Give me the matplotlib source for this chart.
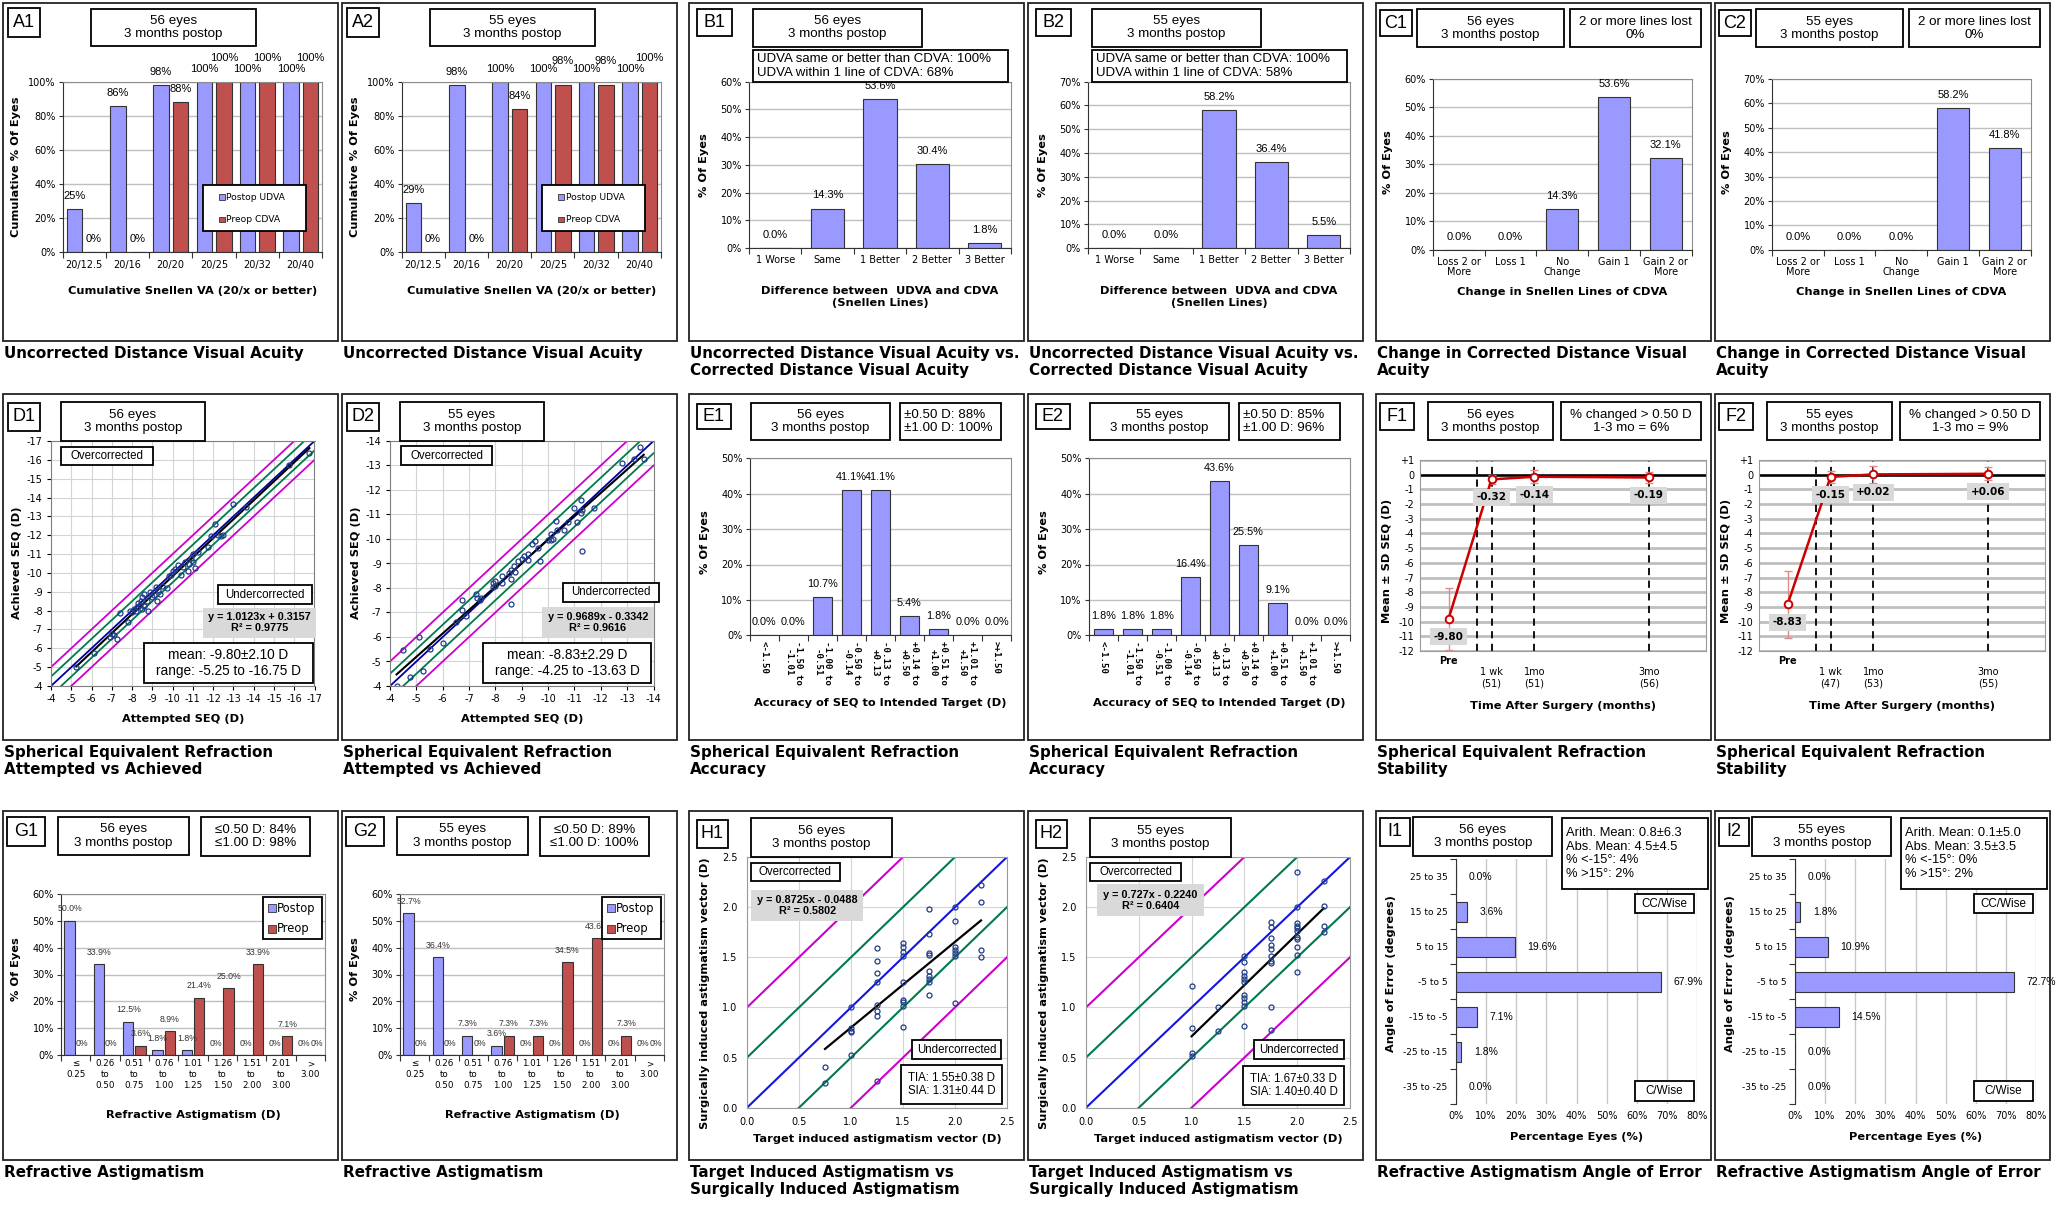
import numpy as np
import matplotlib
matplotlib.use("Agg")
import matplotlib.pyplot as plt
from matplotlib.patches import Rectangle

plt.rcParams["font.family"] = "DejaVu Sans"
plt.rcParams["axes.unicode_minus"] = False

# ---------------- data ----------------
n_eyes = [56, 55]
months_postop = 3

snellen = ["20/12.5", "20/16", "20/20", "20/25", "20/32", "20/40"]
udva_cum = [[25, 86, 98, 100, 100, 100], [29, 98, 100, 100, 100, 100]]
cdva_cum = [[0, 0, 88, 100, 100, 100], [0, 0, 84, 98, 98, 100]]

diff_lines = ["1 Worse", "Same", "1 Better", "2 Better", "3 Better"]
diff_pct = [[0.0, 14.3, 53.6, 30.4, 1.8], [0.0, 0.0, 58.2, 36.4, 5.5]]
diff_ymax = [60, 70]
udva_same_better = [100, 100]
udva_within1 = [68, 58]

cdva_change = ["Loss 2 or\nMore", "Loss 1", "No\nChange", "Gain 1", "Gain 2 or\nMore"]
cdva_change_pct = [[0.0, 0.0, 14.3, 53.6, 32.1], [0.0, 0.0, 0.0, 58.2, 41.8]]
change_ymax = [60, 70]
lost2_pct = [0, 0]

seq_att1 = [-5.25, -6.1, -6.9, -7.0, -7.1, -7.25, -7.4, -7.8, -7.9, -8.0, -8.1, -8.2, -8.25, -8.3,
            -8.4, -8.45, -8.5, -8.5, -8.6, -8.6, -8.75, -8.8, -8.9, -9.0, -9.1, -9.2, -9.25, -9.3,
            -9.4, -9.5, -9.7, -9.8, -9.9, -10.0, -10.1, -10.25, -10.4, -10.5, -10.6, -10.75, -10.8,
            -10.9, -11.0, -11.0, -11.1, -11.25, -11.75, -11.9, -12.1, -12.25, -12.4, -12.5, -13.0,
            -13.6, -15.75, -16.75]
seq_ach1 = [-5.0, -5.75, -6.6, -6.75, -6.7, -6.5, -7.9, -7.4, -8.0, -7.95, -8.1, -8.0, -8.2, -8.4,
            -8.3, -8.5, -8.1, -8.7, -8.9, -8.25, -8.5, -8.0, -9.0, -8.7, -8.85, -9.25, -8.5, -9.1,
            -8.9, -9.3, -9.2, -9.85, -9.9, -10.1, -10.2, -10.4, -9.9, -10.3, -10.6, -10.1, -10.5,
            -10.8, -11.0, -10.6, -10.25, -11.1, -11.35, -11.95, -12.6, -12.0, -11.95, -12.0, -13.65,
            -13.5, -15.75, -16.35]
seq_att2 = [-4.25, -4.5, -4.75, -5.1, -5.25, -5.5, -6.0, -6.5, -6.75, -6.75, -6.9, -7.25, -7.3, -7.4,
            -7.45, -7.9, -7.9, -8.0, -8.0, -8.25, -8.25, -8.5, -8.6, -8.6, -8.6, -8.7, -8.75, -8.85,
            -9.0, -9.1, -9.25, -9.25, -9.4, -9.5, -9.6, -9.7, -10.0, -10.1, -10.1, -10.2, -10.3,
            -10.35, -10.6, -10.75, -11.0, -11.1, -11.25, -11.25, -11.3, -11.3, -11.75, -12.8, -13.25,
            -13.5, -13.63]
seq_ach2 = [-4.0, -5.45, -4.35, -6.0, -4.6, -5.5, -5.75, -6.6, -7.5, -7.1, -6.85, -7.75, -7.6, -7.5,
            -7.6, -8.2, -8.05, -8.1, -8.3, -8.5, -8.2, -8.6, -8.75, -8.35, -7.35, -8.9, -8.65, -9.1,
            -9.2, -9.3, -9.15, -9.4, -9.8, -9.9, -9.65, -9.1, -9.95, -10.2, -9.95, -10.0, -10.75,
            -10.35, -10.35, -10.7, -11.25, -10.7, -11.6, -11.05, -11.2, -9.5, -11.25, -13.1, -13.25,
            -13.75, -13.25]
seq_att = [seq_att1, seq_att2]
seq_ach = [seq_ach1, seq_ach2]
seq_axis_end = [-17, -14]
seq_eq = ["y = 1.0123x + 0.3157\nR² = 0.9775", "y = 0.9689x - 0.3342\nR² = 0.9616"]
seq_mean = [(-9.80, 2.10), (-8.83, 2.29)]
seq_range = [(-5.25, -16.75), (-4.25, -13.63)]

acc_cats = ["<-1.50", "-1.50 to\n-1.01", "-1.00 to\n-0.51", "-0.50 to\n-0.14", "-0.13 to\n+0.13",
            "+0.14 to\n+0.50", "+0.51 to\n+1.00", "+1.01 to\n+1.50", ">+1.50"]
acc_pct = [[0.0, 0.0, 10.7, 41.1, 41.1, 5.4, 1.8, 0.0, 0.0],
           [1.8, 1.8, 1.8, 16.4, 43.6, 25.5, 9.1, 0.0, 0.0]]
within_050 = [88, 85]
within_100 = [100, 96]

stab_t = [-0.5, 0.25, 1, 3]
stab_names = ["Pre", "1 wk", "1mo", "3mo"]
stab_n = [[None, 51, 51, 56], [None, 47, 53, 55]]
stab_mean = [[-9.80, -0.32, -0.14, -0.19], [-8.83, -0.15, 0.02, 0.06]]
stab_sd = [[2.10, 0.30, 0.45, 0.38], [2.29, 0.40, 0.60, 0.45]]
stab_changed = [6, 9]
surgery_t = 0

astig_cats = ["≤\n0.25", "0.26\nto\n0.50", "0.51\nto\n0.75", "0.76\nto\n1.00", "1.01\nto\n1.25",
              "1.26\nto\n1.50", "1.51\nto\n2.00", "2.01\nto\n3.00", ">\n3.00"]
astig_post = [[50.0, 33.9, 12.5, 1.8, 1.8, 0, 0, 0, 0], [52.7, 36.4, 7.3, 3.6, 0, 0, 0, 0, 0]]
astig_pre = [[0, 0, 3.6, 8.9, 21.4, 25.0, 33.9, 7.1, 0], [0, 0, 0, 7.3, 7.3, 34.5, 43.6, 7.3, 0]]
astig_050 = [84, 89]
astig_100 = [98, 100]

tia1 = [0.75, 0.75, 1.0, 1.0, 1.0, 1.0, 1.0,
        1.25, 1.25, 1.25, 1.25, 1.25, 1.25, 1.25, 1.25,
        1.5, 1.5, 1.5, 1.5, 1.5, 1.5, 1.5, 1.5, 1.5,
        1.75, 1.75, 1.75, 1.75, 1.75, 1.75, 1.75, 1.75, 1.75,
        2.0, 2.0, 2.0, 2.0, 2.0, 2.0, 2.0, 2.25, 2.25, 2.25, 2.25]
sia1 = [0.41, 0.25, 1.00, 0.79, 0.76, 0.75, 0.53,
        1.59, 1.46, 1.34, 1.25, 1.02, 0.96, 0.91, 0.27,
        1.64, 1.60, 1.55, 1.51, 1.25, 1.07, 1.05, 1.01, 0.80,
        1.98, 1.73, 1.54, 1.52, 1.36, 1.31, 1.28, 1.25, 1.12,
        2.00, 1.86, 1.60, 1.57, 1.54, 1.51, 1.04, 2.22, 2.05, 1.57, 1.50]
tia2 = [1.0, 1.0, 1.0, 1.0, 1.25, 1.25,
        1.5, 1.5, 1.5, 1.5, 1.5, 1.5, 1.5, 1.5, 1.5, 1.5, 1.5,
        1.75, 1.75, 1.75, 1.75, 1.75, 1.75, 1.75, 1.75, 1.75, 1.75,
        2.0, 2.0, 2.0, 2.0, 2.0, 2.0, 2.0, 2.0, 2.0, 2.0, 2.0, 2.25, 2.25, 2.25, 2.25]
sia2 = [1.21, 0.79, 0.55, 0.52, 1.00, 0.76,
        1.51, 1.45, 1.35, 1.31, 1.28, 1.25, 1.12, 1.09, 1.05, 1.01, 0.81,
        1.85, 1.80, 1.69, 1.62, 1.58, 1.51, 1.46, 1.44, 1.00, 0.77,
        2.35, 2.00, 1.84, 1.81, 1.79, 1.76, 1.70, 1.68, 1.60, 1.52, 1.35, 2.26, 2.01, 1.81, 1.75]
tia = [tia1, tia2]
sia = [sia1, sia2]
tia_eq = ["y = 0.8725x - 0.0488\nR² = 0.5802", "y = 0.727x - 0.2240\nR² = 0.6404"]
tia_sum = ["TIA: 1.55±0.38 D\nSIA: 1.31±0.44 D", "TIA: 1.67±0.33 D\nSIA: 1.40±0.40 D"]

aoe_cats = ["25 to 35", "15 to 25", "5 to 15", "-5 to 5", "-15 to -5", "-25 to -15", "-35 to -25"]
aoe_pct = [[0.0, 3.6, 19.6, 67.9, 7.1, 1.8, 0.0], [0.0, 1.8, 10.9, 72.7, 14.5, 0.0, 0.0]]
aoe_arith = ["0.8±6.3", "0.1±5.0"]
aoe_abs = ["4.5±4.5", "3.5±3.5"]
aoe_lt15 = [4, 0]
aoe_gt15 = [2, 2]

# ---------------- layout / style ----------------
W, H = 2056, 1206
COL_X = [3, 342, 689, 1028, 1376, 1715]
ROW_Y = [3, 394, 811]
ROW_H = [338, 346, 349]
BOX_W = 335

BLUE = "#9999FF"
RED = "#C0504D"
EDGE = "#333333"
GRID = "#C0C0C0"
GRN = "#007A4D"
MAG = "#CC00CC"
PT = "#1F3C88"
BOXF = "Liberation Sans"
CAPF = 10.9
LABF = 8.2
TICKF = 7

fig = plt.figure(figsize=(W / 100, H / 100), dpi=100)
ov = fig.add_axes([0, 0, 1, 1], zorder=50)
ov.set_xlim(0, W)
ov.set_ylim(H, 0)
ov.axis("off")


def box(x0, y0, x1, y1, text="", size=9.6, ha="center", fc="white", weight="normal", lw=1.3, ls=1.12):
    ov.add_patch(Rectangle((x0, y0), x1 - x0, y1 - y0, facecolor=fc,
                           edgecolor="black" if lw else "none", linewidth=lw))
    if text:
        tx = (x0 + x1) / 2 if ha == "center" else x0 + 4
        ov.text(tx, (y0 + y1) / 2, text, ha=ha, va="center", fontsize=size, family=BOXF,
                weight=weight, linespacing=ls)


def panel(col, row, caption):
    x0, y0 = COL_X[col], ROW_Y[row]
    ov.add_patch(Rectangle((x0, y0), BOX_W, ROW_H[row], fill=False, edgecolor="#222222", linewidth=1.3))
    ov.text(x0 + 1, y0 + ROW_H[row] + 5, caption, ha="left", va="top", fontsize=CAPF,
            weight="bold", linespacing=1.15)
    return x0, y0


def make_axes(bx, by, l, t, r, b):
    ax = fig.add_axes([(bx + l) / W, 1 - (by + b) / H, (r - l) / W, (b - t) / H])
    return ax, (bx + l, by + t, bx + r, by + b)


def inner(rect, f0, g0, f1, g1, text, **kw):
    L, T, R, B = rect
    box(L + f0 * (R - L), T + g0 * (B - T), L + f1 * (R - L), T + g1 * (B - T), text, **kw)


def axis_labels(rect, xl, xl_y, yl, yl_x, yl_y):
    L, T, R, B = rect
    ov.text((L + R) / 2, xl_y, xl, ha="center", va="center", fontsize=LABF, weight="bold", linespacing=1.2)
    ov.text(yl_x, yl_y, yl, ha="center", va="center", rotation=90, fontsize=LABF, weight="bold")


def bar_style(ax, n, ymax, step, pad):
    ax.set_xlim(-0.5, n - 0.5)
    ax.set_ylim(0, ymax)
    ax.set_yticks(np.arange(0, ymax + 0.1, step))
    ax.yaxis.set_major_formatter(lambda v, p: f"{v:.0f}%")
    ax.yaxis.grid(True, color=GRID, lw=1.0)
    ax.set_axisbelow(True)
    ax.set_xticks(np.arange(n))
    ax.set_xticks(np.arange(-0.5, n, 1.0), minor=True)
    ax.tick_params(axis="x", which="major", length=0, pad=pad, labelsize=TICKF)
    ax.tick_params(axis="x", which="minor", length=4, width=0.8, color=EDGE)
    ax.tick_params(axis="y", length=3, width=0.8, color=EDGE, labelsize=TICKF, pad=2)
    for s in ("top", "right"):
        ax.spines[s].set_color("#8C8C8C")
    for s in ("left", "bottom"):
        ax.spines[s].set_color(EDGE)


def value_labels(ax, xs, vals, texts, dy=9.4, size=8, color="black"):
    dys = np.broadcast_to(np.asarray(dy, float), (len(vals),))
    for x, v, t, d in zip(xs, vals, texts, dys):
        ax.annotate(t, (x, v), xytext=(0, d), textcoords="offset points", ha="center", va="center",
                    fontsize=size, family=BOXF, color=color, annotation_clip=False)


def title_text(k):
    return f"{n_eyes[k]} eyes\n{months_postop} months postop"


# ---------------- A: cumulative UDVA ----------------
for k in range(2):
    bx, by = panel(k, 0, "Uncorrected Distance Visual Acuity")
    box(bx + 5, by + 5, bx + 36.5, by + 33.5, f"A{k + 1}", size=13)
    box(bx + 88, by + 5.5, bx + 253, by + 43, title_text(k))
    ax, r = make_axes(bx, by, 59.5, 79, 319, 249)
    x = np.arange(len(snellen))
    ax.bar(x - 0.22, udva_cum[k], 0.36, color=BLUE, edgecolor=EDGE, lw=0.8)
    ax.bar(x + 0.23, cdva_cum[k], 0.36, color=RED, edgecolor=EDGE, lw=0.8)
    bar_style(ax, len(snellen), 100, 20, 6)
    ax.set_xticklabels(snellen)
    value_labels(ax, x - 0.22, udva_cum[k], [f"{v}%" for v in udva_cum[k]])
    value_labels(ax, x + 0.23, cdva_cum[k], [f"{v}%" for v in cdva_cum[k]],
                 dy=[17.5 if v >= 95 else 9.4 for v in cdva_cum[k]])
    box(bx + 200, by + 182, bx + 303, by + 228)
    for i, (c, name) in enumerate([(BLUE, "Postop UDVA"), (RED, "Preop CDVA")]):
        yy = by + 194 + 22.5 * i
        ov.add_patch(Rectangle((bx + 216, yy - 2.8), 5.5, 5.5, facecolor=c, edgecolor=EDGE, lw=0.6))
        ov.text(bx + 223.5, yy, name, va="center", fontsize=6.6)
    axis_labels(r, "Cumulative Snellen VA (20/x or better)", by + 288, "Cumulative % Of Eyes", bx + 13, by + 164)

# ---------------- B: UDVA vs CDVA ----------------
for k in range(2):
    bx, by = panel(2 + k, 0, "Uncorrected Distance Visual Acuity vs.\nCorrected Distance Visual Acuity")
    box(bx + 7.5, by + 6, bx + 43, by + 32.7, f"B{k + 1}", size=13)
    box(bx + 63.8, by + 6, bx + 233, by + 43.7, title_text(k))
    ax, r = make_axes(bx, by, 60, 78.5, 322, 245.3)
    x = np.arange(len(diff_lines))
    ax.bar(x, diff_pct[k], 0.63, color=BLUE, edgecolor=EDGE, lw=0.8)
    bar_style(ax, len(diff_lines), diff_ymax[k], 10, 5)
    ax.set_xticklabels(diff_lines)
    value_labels(ax, x, diff_pct[k], [f"{v:.1f}%" for v in diff_pct[k]])
    box(bx + 63.8, by + 46.7, bx + 319, by + 79.3,
        f"UDVA same or better than CDVA: {udva_same_better[k]}%\nUDVA within 1 line of CDVA: {udva_within1[k]}%",
        ha="left", size=9.5)
    axis_labels(r, "Difference between  UDVA and CDVA\n(Snellen Lines)", by + 294.3, "% Of Eyes",
                bx + 15.4, by + 162)

# ---------------- C: change in CDVA ----------------
for k in range(2):
    bx, by = panel(4 + k, 0, "Change in Corrected Distance Visual\nAcuity")
    box(bx + 3.5, by + 7, bx + 35.5, by + 33.3, f"C{k + 1}", size=13)
    box(bx + 40.5, by + 6, bx + 188, by + 44.3, title_text(k))
    box(bx + 193.7, by + 6, bx + 325, by + 44.3, f"2 or more lines lost\n{lost2_pct[k]}%")
    ax, r = make_axes(bx, by, 57, 76, 315.6, 246.7)
    x = np.arange(len(cdva_change))
    ax.bar(x, cdva_change_pct[k], 0.62, color=BLUE, edgecolor=EDGE, lw=0.8)
    bar_style(ax, len(cdva_change), change_ymax[k], 10, 5)
    ax.set_xticklabels(cdva_change, linespacing=1.1)
    value_labels(ax, x, cdva_change_pct[k], [f"{v:.1f}%" for v in cdva_change_pct[k]])
    axis_labels(r, "Change in Snellen Lines of CDVA", by + 289.3, "% Of Eyes", bx + 12, by + 159)

# ---------------- D: attempted vs achieved SEQ ----------------
d_inner = [
    [(0.038, 0.023, 0.386, 0.098), (0.632, 0.589, 0.992, 0.667), (0.577, 0.68, 1.005, 0.803), (0.353, 0.826, 0.994, 0.986)],
    [(0.042, 0.02, 0.387, 0.099), (0.658, 0.578, 1.02, 0.656), (0.575, 0.676, 1.003, 0.803), (0.353, 0.826, 0.99, 0.986)],
]
for k in range(2):
    bx, by = panel(k, 1, "Spherical Equivalent Refraction\nAttempted vs Achieved")
    box(bx + 4.5, by + 8.7, bx + 37, by + 37, f"D{k + 1}", size=13)
    box(bx + 58, by + 8, bx + 202, by + 47, title_text(k))
    ax, r = make_axes(bx, by, 48, 47, 311.5, 292)
    lo, hi = -4, seq_axis_end[k]
    ax.set_xlim(lo, hi)
    ax.set_ylim(lo, hi)
    ticks = np.arange(lo, hi - 1, -1)
    ax.set_xticks(ticks)
    ax.set_yticks(ticks)
    ax.grid(True, color="#D4D4D4", lw=0.8)
    ax.set_axisbelow(True)
    xx = np.array([lo, hi], float)
    for off, col in ((1.0, MAG), (0.5, GRN)):
        ax.plot(xx, xx + off, color=col, lw=1.3)
        ax.plot(xx, xx - off, color=col, lw=1.3)
    ax.plot(xx, xx, color="#0000A0", lw=1.3)
    att = np.array(seq_att[k])
    ach = np.array(seq_ach[k])
    slope, icpt = np.polyfit(att, ach, 1)
    fx = np.array([att.max(), att.min()])
    ax.plot(fx, slope * fx + icpt, color="black", lw=1.5)
    ax.plot(att, ach, "o", ms=3.6, mfc="none", mec=PT, mew=0.9)
    ax.tick_params(labelsize=TICKF, length=3, width=0.8, pad=3)
    for s in ax.spines.values():
        s.set_color("#7F7F7F")
    f = d_inner[k]
    inner(r, *f[0], "Overcorrected", size=8.3)
    inner(r, *f[1], "Undercorrected", size=8.3)
    inner(r, *f[2], seq_eq[k], size=7.8, weight="bold", fc="#D9D9D9", lw=0)
    m, sd = seq_mean[k]
    rlo, rhi = seq_range[k]
    inner(r, *f[3], f"mean: {m:.2f}±{sd:.2f} D\nrange: {rlo:.2f} to {rhi:.2f} D", size=9.8)
    axis_labels(r, "Attempted SEQ (D)", by + 325, "Achieved SEQ (D)", bx + 14, by + 169)

# ---------------- E: SEQ accuracy ----------------
for k in range(2):
    bx, by = panel(2 + k, 1, "Spherical Equivalent Refraction\nAccuracy")
    box(bx + 7.5, by + 10, bx + 42, by + 35, f"E{k + 1}", size=13)
    box(bx + 61.5, by + 8.7, bx + 201, by + 46.3, title_text(k))
    box(bx + 211, by + 8.7, bx + 311.5, by + 46.3,
        f"±0.50 D: {within_050[k]}%\n±1.00 D: {within_100[k]}%", ha="left")
    ax, r = make_axes(bx, by, 60.7, 64.3, 322, 241.3)
    x = np.arange(len(acc_cats))
    ax.bar(x, acc_pct[k], 0.64, color=BLUE, edgecolor=EDGE, lw=0.8)
    bar_style(ax, len(acc_cats), 50, 10, 4)
    ax.set_xticklabels(acc_cats, rotation=-90, family="DejaVu Sans Mono", weight="bold", fontsize=6.6,
                       linespacing=1.1)
    value_labels(ax, x, acc_pct[k], [f"{v:.1f}%" for v in acc_pct[k]], size=7.8)
    axis_labels(r, "Accuracy of SEQ to Intended Target (D)", by + 308.7, "% Of Eyes", bx + 15.8, by + 148)

# ---------------- F: SEQ stability ----------------
for k in range(2):
    bx, by = panel(4 + k, 1, "Spherical Equivalent Refraction\nStability")
    box(bx + 4.4, by + 8.7, bx + 38.3, by + 36.3, f"F{k + 1}", size=13)
    box(bx + 51.5, by + 8, bx + 177, by + 46.3, title_text(k))
    box(bx + 185, by + 8, bx + 325, by + 46.3, f"% changed > 0.50 D\n1-3 mo = {stab_changed[k]}%")
    ax, r = make_axes(bx, by, 44, 66, 330, 257)
    ax.set_xlim(-1, 4)
    ax.set_ylim(-12, 1)
    ax.set_yticks(np.arange(-12, 2))
    ax.yaxis.set_major_formatter(lambda v, p: f"{v:+.0f}" if v > 0 else f"{v:.0f}")
    ax.yaxis.grid(True, color="#BFBFBF", lw=2.0)
    ax.set_axisbelow(True)
    ax.set_xticks([])
    ax.tick_params(axis="y", labelsize=TICKF, length=0, pad=4)
    for s in ax.spines.values():
        s.set_color("#9A9A9A")
    ax.axhline(0, color="black", lw=1.8)
    for t in [surgery_t] + stab_t[1:]:
        ax.axvline(t, color="black", lw=1.3, ls=(0, (4, 3)))
    ax.errorbar(stab_t, stab_mean[k], yerr=stab_sd[k], fmt="none", ecolor="#E08A8A",
                elinewidth=1.0, capsize=3)
    ax.plot(stab_t, stab_mean[k], color="#CC0000", lw=1.8, marker="o", ms=5.5, mfc="white",
            mec="#CC0000", mew=1.4, zorder=5)
    for t, m in zip(stab_t, stab_mean[k]):
        ax.text(t, m - 1.22, f"{m:+.2f}" if m > 0 else f"{m:.2f}", ha="center", va="center",
                fontsize=7.5, weight="bold", zorder=6, clip_on=False,
                bbox=dict(boxstyle="square,pad=0.35", fc="#D9D9D9", ec="none"))
    for t, name, n in zip(stab_t, stab_names, stab_n[k]):
        if n is None:
            ax.annotate(name, (t, 0), xycoords=("data", "axes fraction"), xytext=(0, -7.5),
                        textcoords="offset points", ha="center", va="center", fontsize=TICKF,
                        weight="bold", annotation_clip=False)
        else:
            ax.annotate(f"{name}\n({n})", (t, 0), xycoords=("data", "axes fraction"), xytext=(0, -19),
                        textcoords="offset points", ha="center", va="center", fontsize=TICKF,
                        linespacing=1.2, annotation_clip=False)
    axis_labels(r, "Time After Surgery (months)", by + 312, "Mean ± SD SEQ (D)", bx + 10.6, by + 167)

# ---------------- G: refractive astigmatism ----------------
for k in range(2):
    bx, by = panel(k, 2, "Refractive Astigmatism")
    box(bx + 4.4, by + 5.7, bx + 41.8, by + 35, f"G{k + 1}", size=13)
    box(bx + 55, by + 5.7, bx + 185.7, by + 44.3, title_text(k))
    box(bx + 198, by + 5.7, bx + 306.8, by + 45, f"≤0.50 D: {astig_050[k]}%\n≤1.00 D: {astig_100[k]}%")
    ax, r = make_axes(bx, by, 58, 82.7, 322, 244.3)
    x = np.arange(len(astig_cats))
    ax.bar(x - 0.21, astig_post[k], 0.35, color=BLUE, edgecolor=EDGE, lw=0.8)
    ax.bar(x + 0.21, astig_pre[k], 0.35, color=RED, edgecolor=EDGE, lw=0.8)
    bar_style(ax, len(astig_cats), 60, 10, 3)
    ax.set_xticklabels(astig_cats, fontsize=6.3, linespacing=1.25)
    fmt = lambda v: "0%" if v == 0 else f"{v:.1f}%"
    value_labels(ax, x - 0.21, astig_post[k], [fmt(v) for v in astig_post[k]], dy=8.5, size=6.3, color="#333333")
    value_labels(ax, x + 0.21, astig_pre[k], [fmt(v) for v in astig_pre[k]], dy=8.5, size=6.3, color="#333333")
    box(bx + 260, by + 86, bx + 319, by + 128)
    for i, (c, name) in enumerate([(BLUE, "Postop"), (RED, "Preop")]):
        yy = by + 97.3 + 20.4 * i
        ov.add_patch(Rectangle((bx + 264.5, yy - 4), 8, 8, facecolor=c, edgecolor=EDGE, lw=0.6))
        ov.text(bx + 274, yy, name, va="center", fontsize=8.3)
    axis_labels(r, "Refractive Astigmatism (D)", by + 304.3, "% Of Eyes", bx + 13, by + 158.3)

# ---------------- H: TIA vs SIA ----------------
h_axes = [(58, 46, 318, 296.7), (58, 46, 322, 296.7)]
h_inner = [
    [(0.014, 0.023, 0.359, 0.096), (0.017, 0.133, 0.446, 0.255), (0.636, 0.731, 0.975, 0.807), (0.593, 0.83, 0.98, 0.987)],
    [(0.017, 0.023, 0.358, 0.096), (0.042, 0.109, 0.447, 0.235), (0.638, 0.731, 0.978, 0.807), (0.595, 0.834, 0.978, 0.989)],
]
for k in range(2):
    bx, by = panel(2 + k, 2, "Target Induced Astigmatism vs\nSurgically Induced Astigmatism")
    box(bx + 7.5, by + 9.3, bx + 39, by + 36.7, f"H{k + 1}", size=13)
    box(bx + 62, by + 6.7, bx + 203, by + 45.7, title_text(k))
    ax, r = make_axes(bx, by, *h_axes[k])
    ax.set_xlim(0, 2.5)
    ax.set_ylim(0, 2.5)
    ax.set_xticks(np.arange(0, 2.51, 0.5))
    ax.set_yticks(np.arange(0, 2.51, 0.5))
    ax.xaxis.set_major_formatter(lambda v, p: f"{v:.1f}")
    ax.yaxis.set_major_formatter(lambda v, p: f"{v:.1f}")
    ax.grid(True, color="#D4D4D4", lw=0.8)
    ax.set_axisbelow(True)
    ax.tick_params(labelsize=TICKF, length=0, pad=7)
    for s in ax.spines.values():
        s.set_color("#9A9A9A")
    xx = np.array([0, 2.5])
    ax.plot(xx, xx, color="#1515E0", lw=1.5)
    for off, col in ((0.5, GRN), (1.0, MAG)):
        ax.plot(xx, xx + off, color=col, lw=1.5)
        ax.plot(xx, xx - off, color=col, lw=1.5)
    tx = np.array(tia[k])
    sy = np.array(sia[k])
    slope, icpt = np.polyfit(tx, sy, 1)
    fx = np.array([tx.min(), tx.max()])
    ax.plot(fx, slope * fx + icpt, color="black", lw=1.6)
    ax.plot(tx, sy, "o", ms=3.6, mfc="none", mec=PT, mew=0.9)
    f = h_inner[k]
    inner(r, *f[0], "Overcorrected", size=8.3)
    inner(r, *f[1], tia_eq[k], size=7.8, weight="bold", fc="#D9D9D9", lw=0)
    inner(r, *f[2], "Undercorrected", size=8.3)
    inner(r, *f[3], tia_sum[k], size=8.3)
    axis_labels(r, "Target induced astigmatism vector (D)", by + 328,
                "Surgically induced astigmatism vector (D)", bx + 16, by + 181.7)

# ---------------- I: angle of error ----------------
for k in range(2):
    bx, by = panel(4 + k, 2, "Refractive Astigmatism Angle of Error")
    box(bx + 4.4, by + 6.7, bx + 34, by + 35, f"I{k + 1}", size=13)
    box(bx + 37.4, by + 5.7, bx + 176, by + 45, title_text(k))
    ax, r = make_axes(bx, by, 80, 48.3, 321, 293.3)
    y = np.arange(len(aoe_cats))[::-1]
    ax.barh(y, aoe_pct[k], 0.57, color=BLUE, edgecolor=EDGE, lw=0.8)
    ax.set_xlim(0, 80)
    ax.set_ylim(-0.5, len(aoe_cats) - 0.5)
    ax.set_xticks(np.arange(0, 81, 10))
    ax.xaxis.set_major_formatter(lambda v, p: f"{v:.0f}%")
    ax.xaxis.grid(True, color="#C8C8C8", lw=1.0)
    ax.set_axisbelow(True)
    ax.set_yticks(y)
    ax.set_yticklabels(aoe_cats)
    ax.set_yticks(np.arange(-0.5, len(aoe_cats), 1.0), minor=True)
    ax.tick_params(axis="y", which="major", length=0, labelsize=6.5, pad=6)
    ax.tick_params(axis="y", which="minor", length=4, width=0.8, color=EDGE)
    ax.tick_params(axis="x", length=0, labelsize=TICKF, pad=5)
    for s in ("top", "right", "bottom"):
        ax.spines[s].set_visible(False)
    ax.spines["left"].set_color(EDGE)
    for yy, v in zip(y, aoe_pct[k]):
        ax.annotate(f"{v:.1f}%", (v, yy), xytext=(9, 0), textcoords="offset points", ha="left",
                    va="center", fontsize=7.5, family=BOXF, annotation_clip=False)
    box(bx + 186, by + 6.7, bx + 332, by + 78.3,
        f"Arith. Mean: {aoe_arith[k]}\nAbs. Mean: {aoe_abs[k]}\n% <-15°: {aoe_lt15[k]}%\n% >15°: {aoe_gt15[k]}%",
        ha="left", size=9.3, ls=1.17)
    inner(r, 0.742, 0.143, 0.987, 0.22, "CC/Wise", size=8.4)
    inner(r, 0.742, 0.905, 0.987, 0.986, "C/Wise", size=8.4)
    axis_labels(r, "Percentage Eyes (%)", by + 325.7, "Angle of Error (degrees)", bx + 15.4, by + 163)

fig.savefig("out.png", dpi=100, facecolor="white")
